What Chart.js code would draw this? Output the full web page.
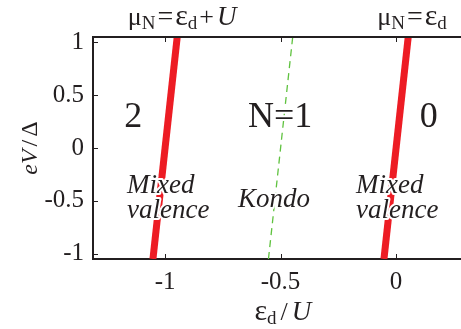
<!DOCTYPE html>
<html>
<head>
<meta charset="utf-8">
<script src="https://cdn.jsdelivr.net/npm/chart.js@4.4.1/dist/chart.umd.min.js"></script>
<style>
  html, body { margin: 0; padding: 0; background: #fff; overflow: hidden; }
  canvas { display: block; }
</style>
</head>
<body>
<canvas id="chart" width="461" height="329"></canvas>
<script>
// Bias voltage eV/Δ at which each resonance line is sampled
const biasV = [-1.05, 1.05];
// ε_d/U of each resonance condition along the bias sweep
const lineDoubly = [-1.0525, -0.9475];   // μN = εd + U
const lineKondo  = [-0.5525, -0.4475];   // particle-hole symmetric point
const lineEmpty  = [-0.0525, 0.0525];    // μN = εd
// Axis ticks
const xTicks = [-1, -0.5, 0];
const yTicks = [-1, -0.5, 0, 0.5, 1];
const xTickLabels = ['-1', '-0.5', '0'];
const yTickLabels = ['-1', '-0.5', '0', '0.5', '1'];

const INK = '#231f20';
const RED = '#ed1c24';
const GREEN = '#5fc23f';
const SERIF = '"Liberation Serif", "Times New Roman", serif';

const pts = xs => biasV.map((v, i) => ({ x: xs[i], y: v }));

function rich(ctx, parts, x, y, align) {
  // parts: [text, font, dy, gapAfter]
  let w = 0;
  parts.forEach(p => { ctx.font = p[1]; w += ctx.measureText(p[0]).width + (p[3] || 0); });
  let cx = align === 'center' ? x - w / 2 : x;
  parts.forEach(p => {
    ctx.font = p[1];
    ctx.fillText(p[0], cx, y + (p[2] || 0));
    cx += ctx.measureText(p[0]).width + (p[3] || 0);
  });
}

function haloText(ctx, text, x, y) {
  ctx.strokeText(text, x, y);
  ctx.fillText(text, x, y);
}

const decor = {
  id: 'decor',
  afterDatasetsDraw(chart) {
    const { ctx, scales: { x, y } } = chart;
    ctx.save();
    ctx.fillStyle = INK;
    ctx.strokeStyle = '#fff';
    ctx.lineWidth = 4;
    ctx.lineJoin = 'round';
    ctx.textBaseline = 'alphabetic';

    // Charge-state labels
    ctx.font = `36px ${SERIF}`;
    ctx.textAlign = 'center';
    haloText(ctx, '2', x.getPixelForValue(-1.138), y.getPixelForValue(0.2));
    haloText(ctx, 'N=1', x.getPixelForValue(-0.502), y.getPixelForValue(0.2));
    haloText(ctx, '0', x.getPixelForValue(0.141), y.getPixelForValue(0.2));

    // Regime labels
    ctx.font = `italic 27px ${SERIF}`;
    ctx.textAlign = 'left';
    haloText(ctx, 'Mixed', x.getPixelForValue(-1.165), y.getPixelForValue(-0.427));
    haloText(ctx, 'valence', x.getPixelForValue(-1.165), y.getPixelForValue(-0.664));
    haloText(ctx, 'Kondo', x.getPixelForValue(-0.684), y.getPixelForValue(-0.56));
    haloText(ctx, 'Mixed', x.getPixelForValue(-0.173), y.getPixelForValue(-0.427));
    haloText(ctx, 'valence', x.getPixelForValue(-0.173), y.getPixelForValue(-0.664));
    ctx.restore();
  },
  afterDraw(chart) {
    const { ctx, chartArea: a, scales: { x, y } } = chart;
    ctx.save();
    ctx.strokeStyle = INK;
    // top edge of the frame
    ctx.lineWidth = 2;
    ctx.beginPath();
    ctx.moveTo(a.left - 1, a.top);
    ctx.lineTo(a.right, a.top);
    ctx.stroke();
    // inward tick marks
    ctx.lineWidth = 1;
    ctx.beginPath();
    xTicks.forEach(v => {
      const px = Math.round(x.getPixelForValue(v)) + 0.5;
      ctx.moveTo(px, a.bottom); ctx.lineTo(px, a.bottom - 5);
      ctx.moveTo(px, a.top); ctx.lineTo(px, a.top + 5);
    });
    yTicks.forEach(v => {
      const py = Math.round(y.getPixelForValue(v)) + 0.5;
      ctx.moveTo(a.left, py); ctx.lineTo(a.left + 5, py);
    });
    ctx.stroke();

    // Titles above the resonance lines
    ctx.fillStyle = INK;
    ctx.textBaseline = 'alphabetic';
    const big = `26px ${SERIF}`, eps = `30px ${SERIF}`, eq = `28px ${SERIF}`,
          sub = `19px ${SERIF}`, it = `italic 27px ${SERIF}`;
    rich(ctx, [['μ', big], ['N', sub, 4, 2], ['=', eq, 0, 2], ['ε', eps], ['d', sub, 4, 2], ['+', big, 0, 3], ['U', it]],
      x.getPixelForValue(-0.926), 25, 'center');
    rich(ctx, [['μ', big], ['N', sub, 4, 2], ['=', eq, 0, 2], ['ε', eps], ['d', sub, 4]],
      x.getPixelForValue(0.069), 25, 'center');

    // x-axis title
    rich(ctx, [['ε', eps], ['d', sub, 4, 4], ['/', big, 0, 4], ['U', it]],
      x.getPixelForValue(-0.49), 320, 'center');

    // y-axis title
    ctx.translate(37, (a.top + a.bottom) / 2);
    ctx.rotate(-Math.PI / 2);
    rich(ctx, [['eV', `italic 24px ${SERIF}`, 0, 3], ['/', `24px ${SERIF}`, 0, 3], ['Δ', `24px ${SERIF}`]], 0, 0, 'center');
    ctx.restore();
  }
};

new Chart(document.getElementById('chart'), {
  type: 'scatter',
  data: {
    datasets: [
      { data: pts(lineDoubly), showLine: true, borderColor: RED, borderWidth: 7, pointRadius: 0, borderCapStyle: 'butt' },
      { data: pts(lineKondo), showLine: true, borderColor: GREEN, borderWidth: 1.3, borderDash: [7, 5], pointRadius: 0 },
      { data: pts(lineEmpty), showLine: true, borderColor: RED, borderWidth: 7, pointRadius: 0, borderCapStyle: 'butt' }
    ]
  },
  options: {
    responsive: false,
    animation: false,
    devicePixelRatio: 1,
    layout: { padding: { top: 37, right: 0, left: 0, bottom: 0 } },
    plugins: { legend: { display: false }, tooltip: { enabled: false } },
    scales: {
      x: {
        type: 'linear', min: -1.312, max: 0.281,
        afterBuildTicks: s => { s.ticks = xTicks.map(v => ({ value: v })); },
        afterFit: s => { s.height = 70; },
        grid: { display: false, drawTicks: false },
        border: { display: true, color: INK, width: 2 },
        ticks: {
          font: { family: SERIF, size: 25 }, color: INK, padding: 8, maxRotation: 0,
          callback: v => xTickLabels[xTicks.indexOf(v)]
        }
      },
      y: {
        type: 'linear', min: -1.05, max: 1.05,
        afterBuildTicks: s => { s.ticks = yTicks.map(v => ({ value: v })); },
        afterFit: s => { s.width = 93; },
        grid: { display: false, drawTicks: false },
        border: { display: true, color: INK, width: 2 },
        ticks: {
          font: { family: SERIF, size: 25 }, color: INK, padding: 9,
          callback: v => yTickLabels[yTicks.indexOf(v)]
        }
      }
    }
  },
  plugins: [decor]
});
</script>
</body>
</html>
